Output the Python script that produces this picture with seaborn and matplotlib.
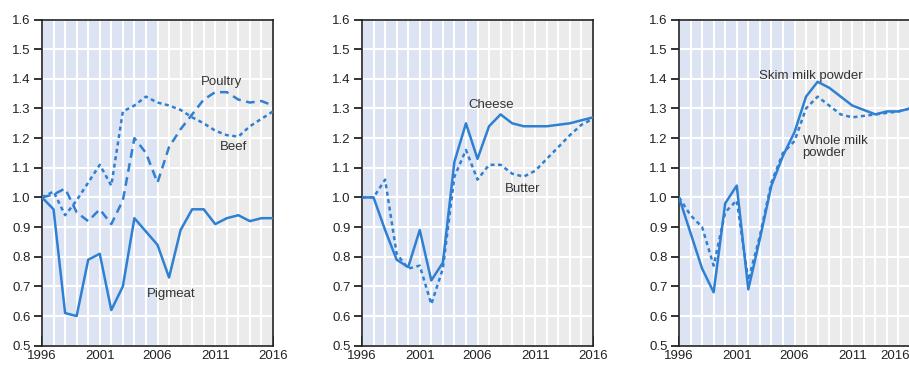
import matplotlib
matplotlib.use("Agg")
import matplotlib.pyplot as plt
import seaborn as sns

years = list(range(1996, 2017))

# Meat
pigmeat = [1.00, 0.96, 0.61, 0.60, 0.79, 0.81, 0.62, 0.70, 0.93, 0.885, 0.84,
           0.73, 0.89, 0.96, 0.96, 0.91, 0.93, 0.94, 0.92, 0.93, 0.93]
poultry = [1.00, 1.01, 1.03, 0.95, 0.92, 0.96, 0.91, 0.99, 1.20, 1.15, 1.05,
           1.17, 1.23, 1.28, 1.33, 1.355, 1.355, 1.33, 1.32, 1.325, 1.31]
beef = [1.00, 1.02, 0.94, 0.99, 1.05, 1.11, 1.04, 1.29, 1.31, 1.34, 1.32,
        1.31, 1.295, 1.27, 1.25, 1.225, 1.21, 1.205, 1.24, 1.265, 1.29]

# Dairy
cheese = [1.00, 1.00, 0.89, 0.79, 0.765, 0.89, 0.72, 0.78, 1.12, 1.25, 1.13,
          1.24, 1.28, 1.25, 1.24, 1.24, 1.24, 1.245, 1.25, 1.26, 1.27]
butter = [1.00, 1.00, 1.06, 0.81, 0.76, 0.77, 0.64, 0.76, 1.07, 1.16, 1.06,
          1.11, 1.11, 1.08, 1.07, 1.09, 1.13, 1.17, 1.21, 1.245, 1.265]

# Milk powders
skim_milk = [1.00, 0.88, 0.76, 0.68, 0.98, 1.04, 0.69, 0.86, 1.04, 1.14, 1.22,
             1.34, 1.39, 1.37, 1.34, 1.31, 1.295, 1.28, 1.29, 1.29, 1.30]
whole_milk = [1.00, 0.94, 0.90, 0.77, 0.95, 0.99, 0.72, 0.87, 1.05, 1.15, 1.19,
              1.30, 1.34, 1.31, 1.28, 1.27, 1.275, 1.28, 1.285, 1.29, 1.30]

yticks = [0.5, 0.6, 0.7, 0.8, 0.9, 1.0, 1.1, 1.2, 1.3, 1.4, 1.5, 1.6]
xtick_labels = [1996, 2001, 2006, 2011, 2016]

blue = "#2f7fd2"
solid = "-"
long_dash = (0, (3.5, 2.2))
short_dash = (0, (1.6, 1.4))

sns.set_style("white")
plt.rcParams["font.family"] = ["Liberation Sans Narrow", "Liberation Sans", "DejaVu Sans"]
plt.rcParams["font.size"] = 9.5

fig = plt.figure(figsize=(9.09, 3.67), dpi=100)
lefts = [42 / 909, 362 / 909, 679 / 909]
axes = [fig.add_axes([l, 21.3 / 367, 231 / 909, 326.2 / 367]) for l in lefts]

panels = [
    [(pigmeat, solid), (poultry, long_dash), (beef, short_dash)],
    [(cheese, solid), (butter, short_dash)],
    [(skim_milk, solid), (whole_milk, short_dash)],
]

for i, (ax, series) in enumerate(zip(axes, panels)):
    # shaded background: history in blue, projection in grey
    ax.axvspan(1996, 2006, color="#dce4f4", zorder=0, lw=0)
    ax.axvspan(2006, 2016, color="#ebebeb", zorder=0, lw=0)
    for yr in years:
        ax.axvline(yr, color="white", lw=1.5, zorder=1)
    for v in yticks:
        ax.axhline(v, color="white", lw=1.5, zorder=1)

    for vals, ls in series:
        sns.lineplot(x=years, y=vals, ax=ax, color=blue, lw=1.8,
                     linestyle=ls, zorder=3)

    ax.set_xlim(1996, 2016)
    ax.set_ylim(0.5, 1.6)
    ax.set_yticks(yticks)
    ax.set_yticklabels([f"{v:.1f}" for v in yticks])
    ax.set_xticks(years)
    ax.set_xticklabels([str(y) if y in xtick_labels else "" for y in years])
    ax.tick_params(axis="x", bottom=True, direction="in", length=7, width=1.2,
                   color="#111", pad=3, labelsize=9.5, labelcolor="#222")
    ax.tick_params(axis="y", left=True, direction="out", length=6, width=1.2,
                   color="#111", pad=2, labelsize=9.5, labelcolor="#222")
    for sp in ax.spines.values():
        sp.set_visible(True)
        sp.set_color("#222")
        sp.set_linewidth(1.2)
    ax.set_xlabel("")
    ax.set_ylabel("")
    if i == 2:
        # last label squeezed in against the picture edge
        ax.get_xticklabels()[-1].set_horizontalalignment("right")

txt = dict(fontsize=9.5, color="#333", zorder=4)
axes[0].text(2011.5, 1.39, "Poultry", ha="center", va="center", **txt)
axes[0].text(2012.6, 1.17, "Beef", ha="center", va="center", **txt)
axes[0].text(2007.2, 0.675, "Pigmeat", ha="center", va="center", **txt)
axes[1].text(2007.2, 1.31, "Cheese", ha="center", va="center", **txt)
axes[1].text(2009.9, 1.03, "Butter", ha="center", va="center", **txt)
axes[2].text(2007.4, 1.41, "Skim milk powder", ha="center", va="center", **txt)
axes[2].text(2006.7, 1.17, "Whole milk\npowder", ha="left", va="center",
             linespacing=1.1, **txt)

fig.savefig("out.png", dpi=100)
